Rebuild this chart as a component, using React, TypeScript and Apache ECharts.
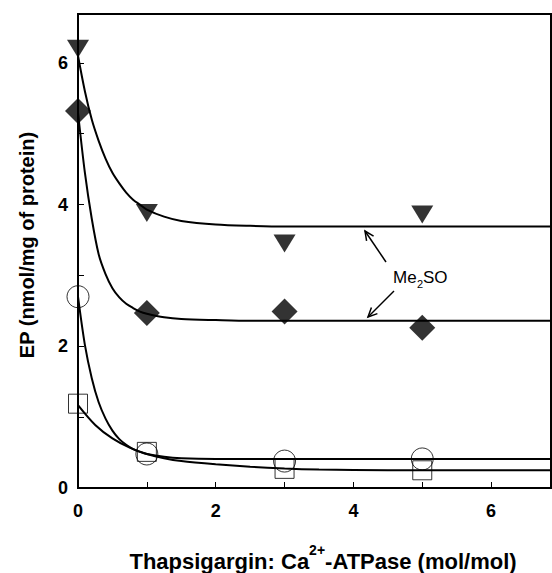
import React, { useEffect, useRef } from "react";
import * as echarts from "echarts";

// Measured doses (x) for all four data sets
const doseX = [0, 1, 3, 5];
// Filled inverted triangles (Me2SO)
const triY = [6.2, 3.88, 3.45, 3.86];
// Filled diamonds (Me2SO)
const diaY = [5.32, 2.47, 2.49, 2.26];
// Open circles
const cirY = [2.7, 0.48, 0.38, 0.41];
// Open squares
const sqY = [1.19, 0.51, 0.27, 0.25];

// Fitted curves
const triFitX = [0, 0.1, 0.2, 0.3, 0.4, 0.5, 0.6, 0.7, 0.8, 0.9, 1.0, 1.25, 1.5, 2, 2.5, 3, 6.87];
const triFitY = [6.1, 5.6, 5.2, 4.9, 4.65, 4.45, 4.3, 4.17, 4.07, 4.0, 3.93, 3.83, 3.77, 3.72, 3.7, 3.69, 3.69];
const diaFitX = [0, 0.1, 0.2, 0.3, 0.4, 0.5, 0.6, 0.7, 0.8, 0.9, 1.0, 1.25, 1.5, 2, 2.5, 6.87];
const diaFitY = [5.3, 4.45, 3.8, 3.3, 3.02, 2.82, 2.69, 2.6, 2.54, 2.49, 2.46, 2.41, 2.385, 2.37, 2.36, 2.36];
const cirFitX = [0, 0.1, 0.2, 0.3, 0.4, 0.5, 0.6, 0.7, 0.8, 0.9, 1.0, 1.25, 1.5, 2, 6.87];
const cirFitY = [2.7, 2.02, 1.55, 1.21, 0.98, 0.81, 0.69, 0.61, 0.55, 0.51, 0.48, 0.44, 0.42, 0.41, 0.41];
const sqFitX = [0, 0.25, 0.5, 0.75, 1.0, 1.25, 1.5, 2, 2.5, 3, 3.5, 4, 5, 6.87];
const sqFitY = [1.17, 0.89, 0.7, 0.57, 0.48, 0.42, 0.38, 0.335, 0.3, 0.275, 0.26, 0.255, 0.25, 0.25];

const xTicks = [0, 2, 4, 6];
const yTicks = [0, 2, 4, 6];
const X_MAX = 6.87;
const Y_MAX = 6.69;

const FONT = "'Liberation Sans', Arial, Helvetica, sans-serif";

const zip = (xs: number[], ys: number[]) => xs.map((x, i) => [x, ys[i]]);

function arrow(x1: number, y1: number, x2: number, y2: number) {
  const ang = Math.atan2(y2 - y1, x2 - x1);
  const L = 10;
  const a = (25 * Math.PI) / 180;
  const p1 = [x2 - L * Math.cos(ang - a), y2 - L * Math.sin(ang - a)];
  const p2 = [x2 - L * Math.cos(ang + a), y2 - L * Math.sin(ang + a)];
  return [
    { type: "line", shape: { x1, y1, x2, y2 }, style: { stroke: "#000", lineWidth: 1.5 } },
    { type: "polyline", shape: { points: [p1, [x2, y2], p2] }, style: { stroke: "#000", fill: null, lineWidth: 1.5 } },
  ];
}

export default function App() {
  const ref = useRef<HTMLDivElement>(null);
  useEffect(() => {
    if (!ref.current) return;
    const chart = echarts.init(ref.current, null, { renderer: "svg" });
    const lineS = (name: string, xs: number[], ys: number[]) => ({
      name,
      type: "line",
      data: zip(xs, ys),
      smooth: 0.3,
      showSymbol: false,
      symbol: "none",
      lineStyle: { color: "#000", width: 2 },
      z: 2,
    });
    chart.setOption({
      animation: false,
      backgroundColor: "#fff",
      grid: { left: 78, top: 14, right: 1, bottom: 85, show: true, borderColor: "#000", borderWidth: 2 },
      xAxis: {
        type: "value",
        min: 0,
        max: X_MAX,
        interval: 1,
        splitLine: { show: false },
        axisLine: { lineStyle: { color: "#000", width: 2 } },
        axisTick: { inside: true, length: 6, lineStyle: { color: "#000", width: 1 } },
        axisLabel: {
          margin: 14,
          color: "#000",
          fontFamily: FONT,
          fontWeight: "bold",
          fontSize: 18,
          showMaxLabel: false,
          formatter: (v: number) => (xTicks.includes(v) ? String(v) : ""),
        },
      },
      yAxis: {
        type: "value",
        min: 0,
        max: Y_MAX,
        interval: 1,
        splitLine: { show: false },
        axisLine: { lineStyle: { color: "#000", width: 2 } },
        axisTick: { inside: true, length: 6, lineStyle: { color: "#000", width: 1 } },
        axisLabel: {
          margin: 10,
          color: "#000",
          fontFamily: FONT,
          fontWeight: "bold",
          fontSize: 18,
          showMaxLabel: false,
          formatter: (v: number) => (yTicks.includes(v) ? String(v) : ""),
        },
      },
      graphic: [
        {
          type: "text",
          x: 27,
          y: 245,
          rotation: Math.PI / 2,
          style: {
            text: "EP (nmol/mg of protein)",
            align: "center",
            verticalAlign: "middle",
            font: `bold 20px ${FONT}`,
            fill: "#000",
          },
        },
        {
          type: "text",
          x: 323,
          y: 543,
          style: {
            text: "{a|Thapsigargin: Ca}{s|2+}{a|-ATPase (mol/mol)}",
            align: "center",
            verticalAlign: "top",
            rich: {
              a: { fontFamily: FONT, fontWeight: "bold", fontSize: 22, fill: "#000", lineHeight: 36 },
              s: { fontFamily: FONT, fontWeight: "bold", fontSize: 14, fill: "#000", lineHeight: 14, verticalAlign: "top" },
            },
          },
        },
        { type: "text", x: 393, y: 277, style: { text: "Me", verticalAlign: "middle", font: `17px ${FONT}`, fill: "#000" } },
        { type: "text", x: 417, y: 284, style: { text: "2", verticalAlign: "middle", font: `11px ${FONT}`, fill: "#000" } },
        { type: "text", x: 423, y: 277, style: { text: "SO", verticalAlign: "middle", font: `17px ${FONT}`, fill: "#000" } },
        ...arrow(386, 262, 365, 231),
        ...arrow(394, 291, 368, 317),
      ],
      series: [
        lineS("triFit", triFitX, triFitY),
        lineS("diaFit", diaFitX, diaFitY),
        lineS("cirFit", cirFitX, cirFitY),
        lineS("sqFit", sqFitX, sqFitY),
        {
          name: "tri",
          type: "scatter",
          data: zip(doseX, triY),
          symbol: "triangle",
          symbolRotate: 180,
          symbolSize: [22, 18],
          itemStyle: { color: "#000" },
          z: 3,
        },
        {
          name: "dia",
          type: "scatter",
          data: zip(doseX, diaY),
          symbol: "diamond",
          symbolSize: [26, 26],
          itemStyle: { color: "#000" },
          z: 3,
        },
        {
          name: "cir",
          type: "scatter",
          data: zip(doseX, cirY),
          symbol: "circle",
          symbolSize: 22,
          itemStyle: { color: "transparent", borderColor: "#000", borderWidth: 1 },
          z: 3,
        },
        {
          name: "sq",
          type: "scatter",
          data: zip(doseX, sqY),
          symbol: "rect",
          symbolSize: 19,
          itemStyle: { color: "transparent", borderColor: "#000", borderWidth: 1 },
          z: 3,
        },
      ],
    });
    return () => chart.dispose();
  }, []);
  return <div ref={ref} style={{ position: "fixed", left: 0, top: 0, width: 552, height: 573 }} />;
}
